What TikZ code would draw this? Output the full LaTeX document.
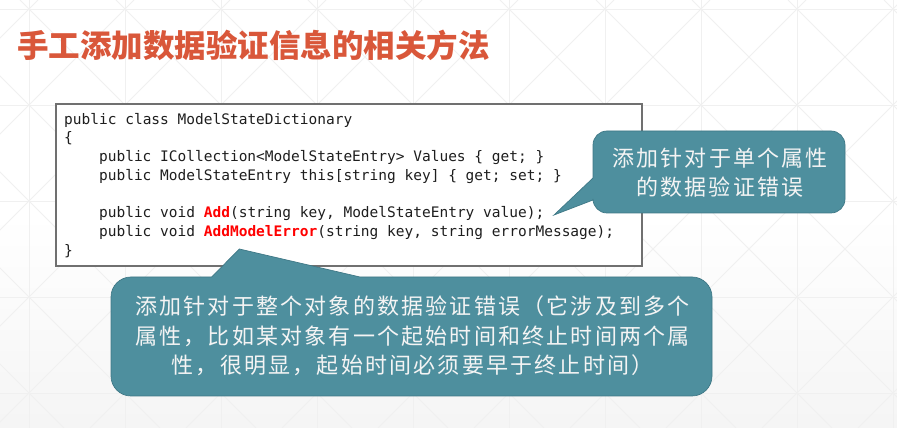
\documentclass[tikz,border=0pt]{standalone}
\usepackage{fontspec}
\newfontfamily\cjk{Noto Sans CJK SC}
\newfontfamily\cjkcall[LetterSpace=10]{Noto Sans CJK SC}
\newfontfamily\codefont{DejaVu Sans Mono}
\definecolor{titlecol}{HTML}{D9573A}
\definecolor{tealfill}{HTML}{4E8F9E}
\definecolor{tealdark}{HTML}{3F7886}
\definecolor{gridcol}{HTML}{F0F0F0}
\definecolor{codetext}{HTML}{1E1E1E}
\definecolor{calltext}{HTML}{F4F4F4}
\definecolor{framecol}{HTML}{707070}
\tikzset{
  gridline/.style={draw=gridcol, line width=0.8pt},
  codeframe/.style={draw=framecol, line width=1.3pt, fill=white, inner sep=0pt},
  codeline/.style={anchor=base west, inner sep=0pt, text=codetext, font=\codefont\fontsize{14.5}{18}\selectfont},
  callout/.style={fill=tealfill, draw=tealdark, line width=0.7pt},
  calltxt/.style={align=center, inner sep=0pt, text=calltext, font=\cjkcall\fontsize{22}{29.5}\selectfont},
}
\newcommand{\hl}[1]{\textbf{\color{red}#1}}
\begin{document}
\begin{tikzpicture}[x=1pt,y=1pt]
\useasboundingbox (0,0) rectangle (897,428);
\shade[top color=white, bottom color=black!4, middle color=white] (0,0) rectangle (897,428);
% background grid
\begin{scope}
\clip (0,0) rectangle (897,428);
\foreach \k in {0,...,9} \draw[gridline] ({29+96*\k},0) -- ({29+96*\k},428);
\foreach \k in {0,...,4} \draw[gridline] (0,{419-96*\k}) -- (897,{419-96*\k});
\foreach \k in {-4,...,9} \draw[gridline] ({448+96*\k},0) -- ({448+96*\k-428},428);
\foreach \k in {0,...,13} \draw[gridline] ({96*\k-390},0) -- ({96*\k-390+428},428);
\end{scope}
% title
\node[anchor=west, inner sep=0pt, text=titlecol, font=\cjk\bfseries\fontsize{31.5}{36}\selectfont] (title) at (17,383) {手工添加数据验证信息的相关方法};
% code box
\node[codeframe, minimum width=586pt, minimum height=162pt] (codebox) at (349,243) {};
\node[codeline] (l1) at (64,303.7) {public class ModelStateDictionary};
\node[codeline] (l2) at (64,285) {\{};
\node[codeline] (l3) at (98.9,266.3) {public ICollection<ModelStateEntry> Values \{ get; \}};
\node[codeline] (l4) at (98.9,247.6) {public ModelStateEntry this[string key] \{ get; set; \}};
\node[codeline] (l5) at (98.9,210.2) {public void \hl{Add}(string key, ModelStateEntry value);};
\node[codeline] (l6) at (98.9,191.5) {public void \hl{AddModelError}(string key, string errorMessage);};
\node[codeline] (l7) at (64,172.8) {\}};
% right callout
\path[callout] (593,283) arc (180:90:14) -- (831,297) arc (90:0:14) -- (845,229) arc (0:-90:14) -- (607,215) arc (270:180:14) -- (593,228) -- (554,213) -- (593,250) -- cycle;
\node[calltxt] (c1) at (720,255.5) {添加针对于单个属性\\的数据验证错误};
% bottom callout
\path[callout] (111,131) arc (180:90:20) -- (211.7,151) -- (239.3,179) -- (360,151) -- (692,151) arc (90:0:20) -- (712,52) arc (0:-90:20) -- (131,32) arc (270:180:20) -- cycle;
\node[calltxt] (c2) at (412.5,92) {添加针对于整个对象的数据验证错误（它涉及到多个\\属性，比如某对象有一个起始时间和终止时间两个属\\性，很明显，起始时间必须要早于终止时间）};
\end{tikzpicture}
\end{document}
